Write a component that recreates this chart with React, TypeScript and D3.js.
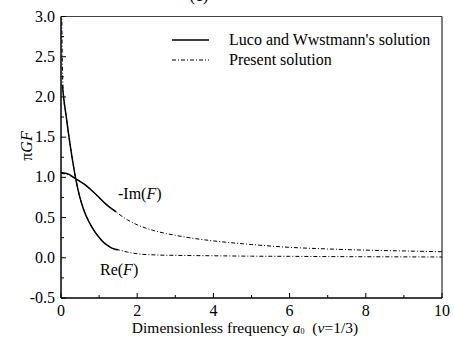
import React from 'react';
import * as d3 from 'd3';

// Luco and Wwstmann's solution (solid)
const lucoReA = [0.035, 0.08, 0.14, 0.21, 0.29, 0.38, 0.49, 0.58, 0.67, 0.8, 0.97, 1.1, 1.2, 1.3, 1.4, 1.5];
const lucoReV = [2.15, 1.95, 1.75, 1.5, 1.25, 1.0, 0.76, 0.62, 0.51, 0.39, 0.27, 0.2, 0.16, 0.13, 0.11, 0.1];
const lucoImA = [0, 0.2, 0.36, 0.6, 0.8, 1.0, 1.15, 1.3, 1.45];
const lucoImV = [1.06, 1.04, 0.99, 0.92, 0.84, 0.75, 0.68, 0.62, 0.57];

// Present solution (dash-dot)
const presReA = [0.02, 0.03, 0.045, 0.08, 0.14, 0.21, 0.29, 0.38, 0.49, 0.58, 0.67, 0.8, 0.97, 1.1, 1.2, 1.3, 1.4, 1.5, 1.75, 2, 2.5, 3, 4, 5, 6, 7, 8, 10];
const presReV = [3.05, 2.6, 2.2, 1.95, 1.75, 1.5, 1.25, 1.0, 0.76, 0.62, 0.51, 0.39, 0.27, 0.2, 0.16, 0.13, 0.11, 0.1, 0.07, 0.05, 0.035, 0.03, 0.025, 0.02, 0.018, 0.015, 0.013, 0.01];
const presImA = [0, 0.2, 0.36, 0.6, 0.8, 1.0, 1.15, 1.3, 1.5, 1.75, 2, 2.5, 3, 3.5, 4, 5, 6, 7, 8, 9, 10];
const presImV = [1.05, 1.03, 0.99, 0.92, 0.84, 0.75, 0.68, 0.62, 0.55, 0.47, 0.41, 0.33, 0.28, 0.24, 0.21, 0.165, 0.13, 0.11, 0.095, 0.085, 0.075];

const xTicks = [0, 2, 4, 6, 8, 10];
const xMinor = [1, 3, 5, 7, 9];
const yTicks = [-0.5, 0.0, 0.5, 1.0, 1.5, 2.0, 2.5, 3.0];
const yMinor = [-0.25, 0.25, 0.75, 1.25, 1.75, 2.25, 2.75];

const font = '"Liberation Serif", "Times New Roman", serif';
const dashDot = '4,2,1,2';

export default function App() {
  const width = 454;
  const height = 340;
  const x = d3.scaleLinear().domain([0, 10]).range([61, 442]);
  const y = d3.scaleLinear().domain([-0.5, 3]).range([298, 16.5]);

  const line = d3
    .line<[number, number]>()
    .x((d) => x(d[0]))
    .y((d) => y(d[1]))
    .curve(d3.curveMonotoneX);

  const pts = (a: number[], v: number[]): [number, number][] =>
    a.map((d, i) => [d, v[i]]);

  const x0 = x(0), x1 = x(10), yb = y(-0.5), yt = y(3);

  return (
    <svg
      width={width}
      height={height}
      style={{ position: 'absolute', left: 0, top: 0, background: '#fff' }}
      fontFamily={font}
    >
      <defs>
        <clipPath id="plot">
          <rect x={x0} y={yt} width={x1 - x0} height={yb - yt} />
        </clipPath>
      </defs>
      <text x={199} y={1} fontSize={17} textAnchor="middle">(c)</text>

      <g clipPath="url(#plot)" fill="none" stroke="#000">
        <path d={line(pts(presReA, presReV)) || ''} strokeWidth={1} strokeDasharray={dashDot} />
        <path d={line(pts(presImA, presImV)) || ''} strokeWidth={1} strokeDasharray={dashDot} />
        <path d={line(pts(lucoReA, lucoReV)) || ''} strokeWidth={1.5} />
        <path d={line(pts(lucoImA, lucoImV)) || ''} strokeWidth={1.5} />
      </g>

      {/* frame */}
      <line x1={x0} y1={yt} x2={x1} y2={yt} stroke="#444" strokeWidth={1} />
      <line x1={x1} y1={yt} x2={x1} y2={yb} stroke="#000" strokeWidth={1} />
      <line x1={x0} y1={yt} x2={x0} y2={yb} stroke="#000" strokeWidth={1.5} />
      <line x1={x0} y1={yb} x2={x1} y2={yb} stroke="#000" strokeWidth={1.5} />

      {xTicks.map((t) => (
        <g key={'x' + t}>
          <line x1={x(t)} x2={x(t)} y1={yb} y2={yb - 5} stroke="#000" strokeWidth={1} />
          <text x={x(t)} y={yb + 18} fontSize={16} textAnchor="middle">{t}</text>
        </g>
      ))}
      {xMinor.map((t) => (
        <line key={'xm' + t} x1={x(t)} x2={x(t)} y1={yb} y2={yb - 3} stroke="#000" strokeWidth={1} />
      ))}
      {yTicks.map((t) => (
        <g key={'y' + t}>
          <line x1={x0} x2={x0 + 5} y1={y(t)} y2={y(t)} stroke="#000" strokeWidth={1} />
          <text x={x0 - 6} y={y(t) + 5} fontSize={16} textAnchor="end">{t.toFixed(1)}</text>
        </g>
      ))}
      {yMinor.map((t) => (
        <line key={'ym' + t} x1={x0} x2={x0 + 3} y1={y(t)} y2={y(t)} stroke="#000" strokeWidth={1} />
      ))}

      {/* axis titles */}
      <text transform="translate(32,146) rotate(-90)" fontSize={16} textAnchor="middle">
        π<tspan fontStyle="italic">GF</tspan>
      </text>
      <text x={245} y={333} fontSize={15.5} textAnchor="middle">
        Dimensionless frequency <tspan fontStyle="italic">a</tspan>
        <tspan fontSize={8} dy={1}>0</tspan>
        <tspan dy={-1}>{'\u00a0 '}(</tspan>
        <tspan fontStyle="italic">ν</tspan>=1/3)
      </text>

      {/* curve labels */}
      <text x={118} y={199} fontSize={16}>
        -Im(<tspan fontStyle="italic">F</tspan>)
      </text>
      <text x={100} y={275} fontSize={16}>
        Re(<tspan fontStyle="italic">F</tspan>)
      </text>

      {/* legend */}
      <line x1={172} x2={209} y1={40} y2={40} stroke="#000" strokeWidth={1.5} />
      <text x={229} y={45} fontSize={16}>Luco and Wwstmann's solution</text>
      <line x1={172} x2={209} y1={60} y2={60} stroke="#000" strokeWidth={1} strokeDasharray={dashDot} />
      <text x={229} y={65} fontSize={16}>Present solution</text>
    </svg>
  );
}
